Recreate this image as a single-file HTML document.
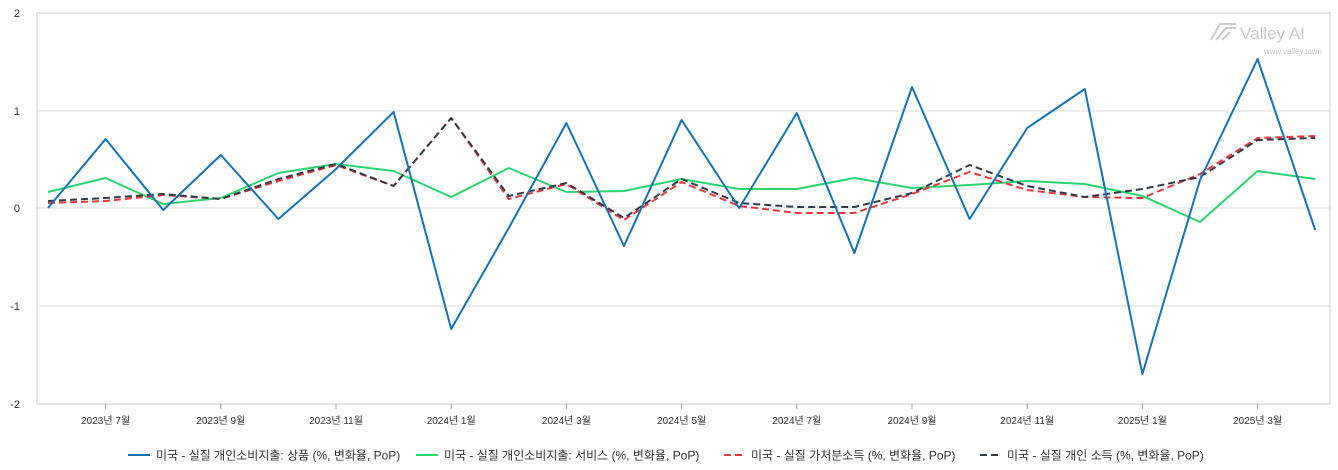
<!DOCTYPE html>
<html><head><meta charset="utf-8"><style>
body{margin:0;background:#fff;}
svg{display:block;font-family:"Liberation Sans","Noto Sans CJK KR",sans-serif;}
</style></head><body>
<svg width="1338" height="470" viewBox="0 0 1338 470">
<rect x="37" y="13" width="1293" height="391" fill="#fff" stroke="#ccc"/>
<g stroke="#ddd" stroke-width="1">
<line x1="37" x2="1330" y1="111" y2="111"/><line x1="37" x2="1330" y1="208" y2="208"/><line x1="37" x2="1330" y1="306" y2="306"/>
</g>
<g font-size="11" fill="#333" text-anchor="end">
<text x="20" y="17">2</text><text x="20" y="115">1</text><text x="20" y="212">0</text><text x="20" y="310">-1</text><text x="20" y="408">-2</text>
</g>
<g stroke="#999"><line x1="105.6" x2="105.6" y1="404" y2="409"/><line x1="220.8" x2="220.8" y1="404" y2="409"/><line x1="336" x2="336" y1="404" y2="409"/><line x1="451.2" x2="451.2" y1="404" y2="409"/><line x1="566.4" x2="566.4" y1="404" y2="409"/><line x1="681.6" x2="681.6" y1="404" y2="409"/><line x1="796.8" x2="796.8" y1="404" y2="409"/><line x1="912" x2="912" y1="404" y2="409"/><line x1="1027.2" x2="1027.2" y1="404" y2="409"/><line x1="1142.4" x2="1142.4" y1="404" y2="409"/><line x1="1257.6" x2="1257.6" y1="404" y2="409"/></g>
<g font-size="10" fill="#333" text-anchor="middle">
<text x="105.6" y="424">2023년 7월</text><text x="220.8" y="424">2023년 9월</text><text x="336" y="424">2023년 11월</text><text x="451.2" y="424">2024년 1월</text><text x="566.4" y="424">2024년 3월</text><text x="681.6" y="424">2024년 5월</text><text x="796.8" y="424">2024년 7월</text><text x="912" y="424">2024년 9월</text><text x="1027.2" y="424">2024년 11월</text><text x="1142.4" y="424">2025년 1월</text><text x="1257.6" y="424">2025년 3월</text>
</g>
<g opacity="0.45">
<text x="1240" y="39" font-size="17" fill="#888">Valley AI</text>
<text x="1322" y="54" font-size="8" fill="#888" text-anchor="end">www.valley.town</text>
<path d="M1211 40 L1220 24 L1236 24 M1216 40 L1226 28 L1236 28 M1222 40 L1230 32" stroke="#888" stroke-width="2" fill="none"/>
</g>
<g fill="none" stroke-width="2" stroke-linejoin="round">
<polyline stroke="#2ad46f" points="48,192 105.6,178 163.2,204 220.8,198 278.4,173 336,164 393.6,171 451.2,197 508.8,168 566.4,192 624,191 681.6,179 739.2,189 796.8,189 854.4,178 912,188 969.6,185 1027.2,181 1084.8,184 1142.4,196 1200,222 1257.6,171 1315.2,179"/>
<polyline stroke="#e8383d" stroke-dasharray="7,4" points="48,203 105.6,201 163.2,195 220.8,199 278.4,181 336,165 393.6,186 451.2,118 508.8,199 566.4,184 624,220 681.6,182 739.2,206 796.8,213 854.4,213 912,194 969.6,172 1027.2,190 1084.8,197 1142.4,198 1200,174 1257.6,138 1315.2,136"/>
<polyline stroke="#333a48" stroke-dasharray="7,4" points="48,201 105.6,198 163.2,194 220.8,199 278.4,179 336,164 393.6,186 451.2,118 508.8,196 566.4,183 624,218 681.6,179 739.2,203 796.8,207 854.4,207 912,193 969.6,165 1027.2,186 1084.8,197 1142.4,189 1200,177 1257.6,140 1315.2,138"/>
<polyline stroke="#1572b6" points="48,208 105.6,139 163.2,210 220.8,155 278.4,219 336,169 393.6,112 451.2,329 508.8,228 566.4,123 624,246 681.6,120 739.2,208 796.8,113 854.4,253 912,87 969.6,219 1027.2,128 1084.8,89 1142.4,374 1200,180 1257.6,59 1315.2,230"/>
</g>
<g font-size="12" fill="#333">
<line x1="128" x2="150" y1="455" y2="455" stroke="#1572b6" stroke-width="2"/><text x="156" y="459.5">미국 - 실질 개인소비지출: 상품 (%, 변화율, PoP)</text>
<line x1="416" x2="438" y1="455" y2="455" stroke="#2ad46f" stroke-width="2"/><text x="444" y="459.5">미국 - 실질 개인소비지출: 서비스 (%, 변화율, PoP)</text>
<line x1="724" x2="746" y1="455" y2="455" stroke="#e8383d" stroke-width="2" stroke-dasharray="7,4"/><text x="751" y="459.5">미국 - 실질 가처분소득 (%, 변화율, PoP)</text>
<line x1="980" x2="1002" y1="455" y2="455" stroke="#333a48" stroke-width="2" stroke-dasharray="7,4"/><text x="1007" y="459.5">미국 - 실질 개인 소득 (%, 변화율, PoP)</text>
</g>
</svg>
</body></html>
